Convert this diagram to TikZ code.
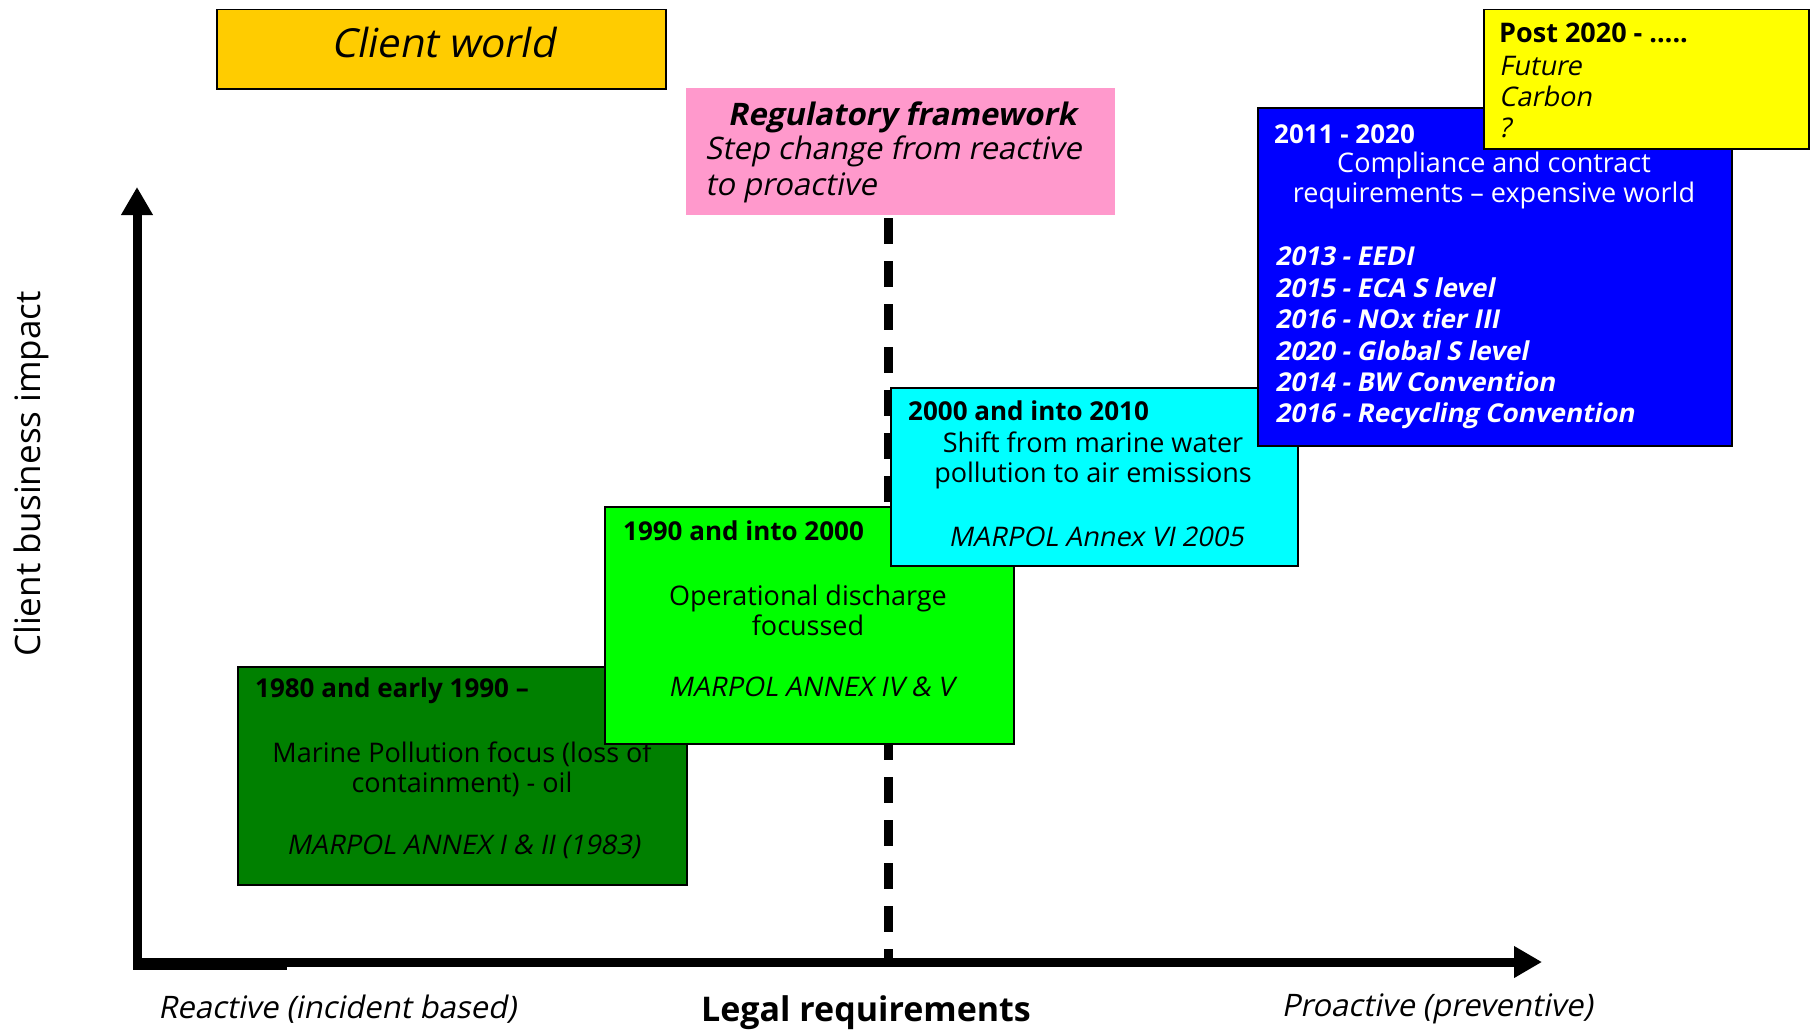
\documentclass[tikz,border=0pt]{standalone}
\usepackage{fontspec}
\setmainfont{Open Sans}
\newfontfamily\oblique[FakeSlant=0.2]{Open Sans}
\usetikzlibrary{arrows.meta, positioning, calc}

\definecolor{clientorange}{RGB}{255,204,0}
\definecolor{regpink}{RGB}{255,153,204}
\definecolor{darkera}{RGB}{0,128,0}
\definecolor{lightera}{RGB}{0,255,0}
\definecolor{cyanera}{RGB}{0,255,255}
\definecolor{blueera}{RGB}{0,0,255}
\definecolor{futureera}{RGB}{255,255,0}

\begin{document}
\begin{tikzpicture}[x=1pt, y=-1pt, every node/.style={inner sep=0pt, font=\fontsize{27}{30}\selectfont}]

        % Stile
        \tikzstyle{era}=[draw=black, line width=1.5pt, anchor=north west]
        \tikzstyle{heading}=[anchor=west, font=\fontsize{26}{30}\selectfont\bfseries]
        \tikzstyle{body}=[align=center]
        \tikzstyle{law}=[font=\fontsize{27}{30}\selectfont\oblique]
        \tikzstyle{axislabel}=[font=\fontsize{31}{36}\selectfont\oblique]

        \useasboundingbox (0,0) rectangle (1811,1033);

        % Achsen
        \coordinate (origin) at (137,962);
        \coordinate (ytop) at (137,187);
        \coordinate (xend) at (1542,962);
        \coordinate (dashtop) at (888,218);
        \coordinate (dashbottom) at (888,962);

        \draw[line width=9pt, dash pattern=on 26pt off 17pt] (dashtop) -- (dashbottom);
        \draw[line width=9pt, {Triangle[width=30pt,length=28pt]}-{Triangle[width=30pt,length=28pt]}] (ytop) -- (origin) -- (xend);
        \fill (133,962) rectangle (287,970);

        % Kopfzeile
        \node[era, fill=clientorange, minimum width=449pt, minimum height=79pt] (client) at (216,9) {};
        \node[font=\fontsize{40}{44}\selectfont\oblique] (clienttext) at (443,42) {Client world};

        \node[anchor=north west, fill=regpink, minimum width=429pt, minimum height=127pt] (regbox) at (686,88) {};
        \node[font=\fontsize{31}{36}\selectfont\bfseries\oblique] (regtitle) at (902,117) {Regulatory framework};
        \node[anchor=west, align=left, font=\fontsize{31}{36}\selectfont\oblique] (regtext) at (705,169) {Step change from reactive\\to proactive};

        % 1980
        \node[era, fill=darkera, minimum width=449pt, minimum height=218pt] (early) at (237,666) {};
        \node[heading] (earlyyear) at (255,691) {1980 and early 1990 –};
        \node[body] (earlytext) at (462,769) {Marine Pollution focus (loss of\\containment) - oil};
        \node[law] (earlylaw) at (463,847) {MARPOL ANNEX I \& II (1983)};

        % 1990
        \node[era, fill=lightera, minimum width=409pt, minimum height=237pt] (nineties) at (604,506) {};
        \node[heading] (ninetiesyear) at (623,531) {1990 and into 2000};
        \node[body] (ninetiestext) at (808,610) {Operational discharge\\focussed};
        \node[law] (ninetieslaw) at (811,687) {MARPOL ANNEX IV \& V};

        % 2000
        \node[era, fill=cyanera, minimum width=407pt, minimum height=178pt] (noughties) at (890,387) {};
        \node[heading] (noughtiesyear) at (908,411) {2000 and into 2010};
        \node[body] (noughtiestext) at (1093,460) {Shift from marine water\\pollution to air emissions};
        \node[law] (noughtieslaw) at (1096,537) {MARPOL Annex VI 2005};

        % 2011
        \node[era, fill=blueera, minimum width=474pt, minimum height=338pt] (tens) at (1257,107) {};
        \node[heading, text=white] (tensyear) at (1274,134) {2011 - 2020};
        \node[body, text=white] (tenstext) at (1494,180) {Compliance and contract\\requirements – expensive world};
        \node[anchor=west, align=left, text=white, font=\fontsize{26}{31.4}\selectfont\bfseries\oblique] (tenslist) at (1275,338)
          {2013 - EEDI\\2015 - ECA S level\\2016 - NOx tier III\\2020 - Global S level\\2014 - BW Convention\\2016 - Recycling Convention};

        % nach 2020
        \node[era, fill=futureera, minimum width=325pt, minimum height=139pt] (future) at (1483,9) {};
        \node[heading, font=\fontsize{27}{30}\selectfont\bfseries] (futureyear) at (1499,33) {Post 2020 - …..};
        \node[anchor=west, align=left, font=\fontsize{27}{31}\selectfont\oblique] (futuretext) at (1499,97) {Future\\Carbon\\?};

        % Beschriftung
        \node[rotate=90, font=\fontsize{35}{40}\selectfont] (ylabel) at (31,474) {Client business impact};
        \node[axislabel] (reactive) at (337,1009) {Reactive (incident based)};
        \node[font=\fontsize{34}{40}\selectfont\bfseries] (legal) at (866,1013) {Legal requirements};
        \node[axislabel] (proactive) at (1437,1009) {Proactive (preventive)};
\end{tikzpicture}
\end{document}
